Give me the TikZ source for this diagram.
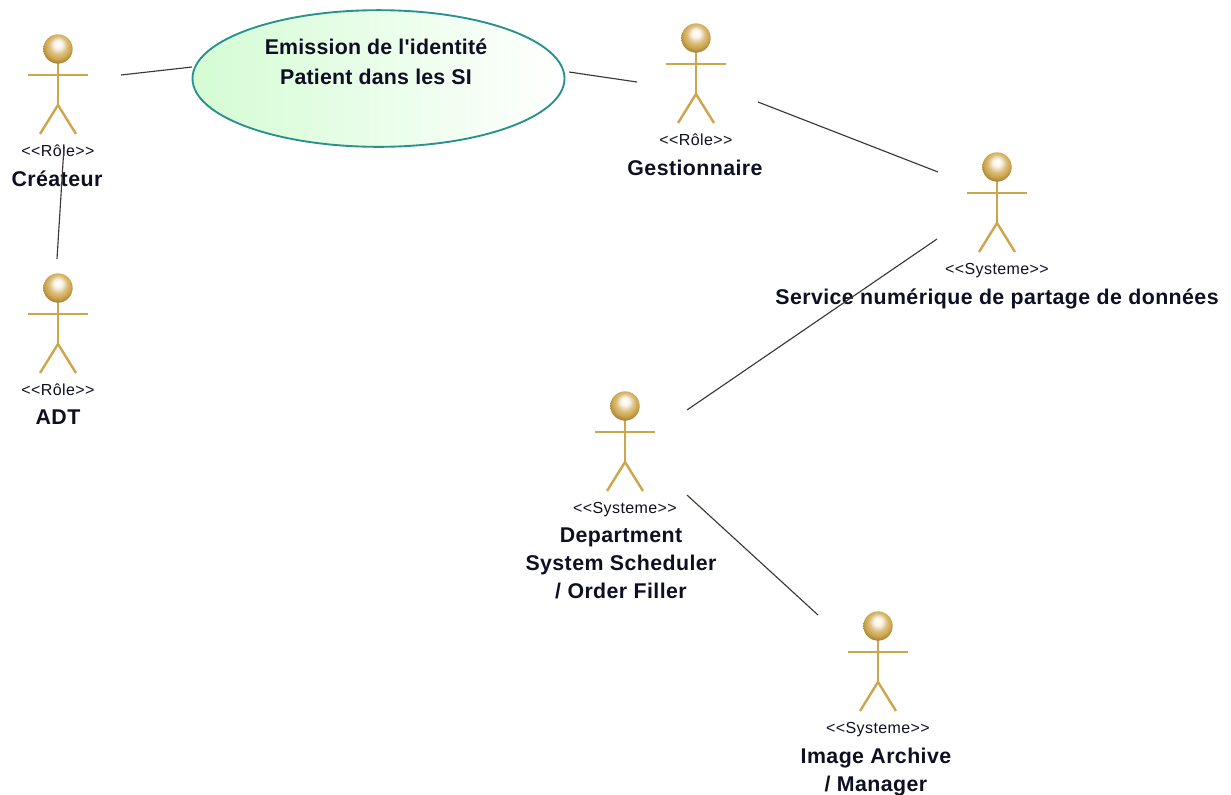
\documentclass[tikz,border=0pt]{standalone}
\usepackage{fontspec}
\usetikzlibrary{shapes.geometric}
\setmainfont{Liberation Sans}
\newfontfamily\labst[LetterSpace=2.5]{Liberation Sans}
\newfontfamily\labnm[LetterSpace=2]{Liberation Sans}
\newfontfamily\labuc[LetterSpace=1]{Liberation Sans}
\definecolor{actorgold}{RGB}{205,165,75}
\definecolor{ucborder}{RGB}{40,145,140}
\definecolor{ucgreen}{RGB}{212,252,212}
\definecolor{link}{RGB}{60,55,50}
\definecolor{ink}{RGB}{15,15,35}
\pgfdeclareradialshading{actorball}{\pgfpoint{0bp}{9bp}}{%
  color(0bp)=(white);
  color(7bp)=(white!88!actorgold);
  color(15bp)=(actorgold!70!white);
  color(22bp)=(actorgold);
  color(28bp)=(actorgold!80!black);
  color(50bp)=(actorgold!65!black)}
\tikzset{
  actorline/.style={draw=actorgold,line width=1.8pt},
  ball/.style={circle,minimum size=22pt,inner sep=0pt,shading=actorball},
  stereo/.style={font=\labst\fontsize{12pt}{14pt}\selectfont,text=ink,inner sep=0pt,anchor=base},
  actorname/.style={font=\labnm\bfseries\fontsize{16pt}{21pt}\selectfont,text=ink,inner sep=0pt,align=center,anchor=north},
  usecase/.style={ellipse,draw=ucborder,line width=1.4pt,left color=ucgreen,right color=white,
    minimum width=279pt,minimum height=102.5pt,inner sep=0pt},
  uctext/.style={font=\labuc\bfseries\fontsize{16pt}{22.5pt}\selectfont,text=ink,inner sep=0pt,align=center},
  assoc/.style={draw=link,line width=0.85pt}
}
% #1 id, #2 cx, #3 head cy, #4 stereotype, #5 name, #6 name x offset
\newcommand{\umlactor}[6]{%
  \coordinate (#1hip) at (#2,#3+56);
  \coordinate (#1neck) at (#2,#3+14);
  \coordinate (#1armL) at (#2-30,#3+26);
  \coordinate (#1armR) at (#2+30,#3+26);
  \coordinate (#1legL) at (#2-18,#3+85);
  \coordinate (#1legR) at (#2+18,#3+85);
  \draw[actorline] (#1neck) -- (#1hip);
  \draw[actorline] (#1armL) -- (#1armR);
  \draw[actorline] (#1legL) -- (#1hip) -- (#1legR);
  \node[ball] (#1head) at (#2,#3) {};
  \node[stereo] (#1st) at (#2,#3+107) {#4};
  \node[actorname] (#1nm) at (#2+#6,#3+122) {#5};
}
\begin{document}
\begin{tikzpicture}[x=0.75pt,y=-0.75pt]
\useasboundingbox (0,0) rectangle (1231,794);
\clip (0,0) rectangle (1231,794);
\node[usecase] (uc) at (378.5,78.5) {};
\node[uctext] (uctxt) at (376,62) {Emission de l'identité\\Patient dans les SI};
\umlactor{cre}{58}{49}{<{}<Rôle>{}>}{Créateur}{-1}
\umlactor{adt}{58}{288}{<{}<Rôle>{}>}{ADT}{0}
\umlactor{ges}{696}{38}{<{}<Rôle>{}>}{Gestionnaire}{-1}
\umlactor{svc}{997}{167}{<{}<Systeme>{}>}{Service numérique de partage de données}{0}
\umlactor{dss}{625}{406}{<{}<Systeme>{}>}{Department\\System Scheduler\\/ Order Filler}{-4}
\umlactor{arc}{878}{626}{<{}<Systeme>{}>}{Image Archive\\/ Manager}{-2}
% connector ends
\coordinate (creR) at (121,75);
\coordinate (ucL) at (192,67);
\coordinate (ucR) at (569,72);
\coordinate (gesL) at (637,82);
\coordinate (creB) at (64,147);
\coordinate (adtT) at (57,259);
\coordinate (gesR) at (758,102);
\coordinate (svcL) at (938,172);
\coordinate (svcLb) at (937,239);
\coordinate (dssR) at (687,410);
\coordinate (dssRb) at (687,495);
\coordinate (arcT) at (818,615);
\draw[assoc] (creR) -- (ucL);
\draw[assoc] (ucR) -- (gesL);
\draw[assoc] (creB) -- (adtT);
\draw[assoc] (gesR) -- (svcL);
\draw[assoc] (svcLb) -- (dssR);
\draw[assoc] (dssRb) -- (arcT);
\end{tikzpicture}
\end{document}
